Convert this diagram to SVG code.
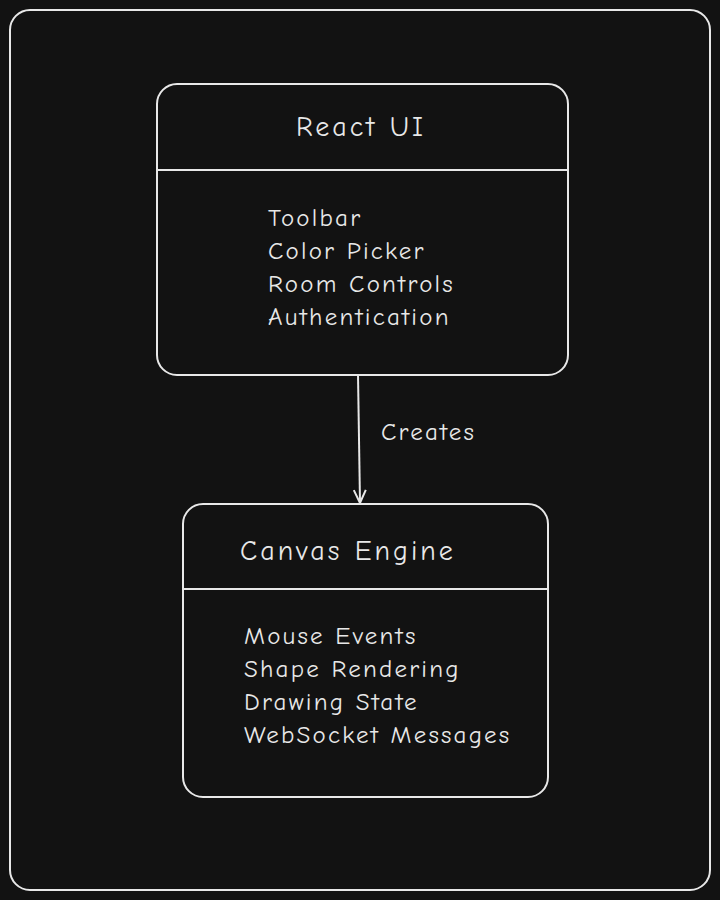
<svg xmlns="http://www.w3.org/2000/svg" width="720" height="900" viewBox="0 0 720 900">
<defs>
<style>
.b{fill:none;stroke:#e8e8e8;stroke-width:2}
.t{fill:#e8e8e8;font-family:"Comic Neue","Open Sans","Liberation Sans",sans-serif;font-size:25px;letter-spacing:2.2px}
.h{font-size:28px;letter-spacing:3px}
</style>
<marker id="a" markerWidth="16" markerHeight="16" refX="14" refY="8" orient="auto" markerUnits="userSpaceOnUse">
<path d="M1,2 L14,8 L1,14" fill="none" stroke="#e8e8e8" stroke-width="2"/>
</marker>
</defs>
<rect width="720" height="900" fill="#121212"/>
<rect x="10" y="10" width="700" height="880" rx="20" class="b"/>
<g id="connectors">
<line x1="358" y1="375" x2="360" y2="503" class="b" marker-end="url(#a)"/>
<text x="381" y="440" class="t">Creates</text>
</g>
<g id="react-ui">
<rect x="157" y="84" width="411" height="291" rx="20" class="b"/>
<line x1="157" y1="170" x2="568" y2="170" class="b"/>
<text x="361" y="136" class="t h" text-anchor="middle">React UI</text>
<text x="268" y="226" class="t">Toolbar</text>
<text x="268" y="259" class="t">Color Picker</text>
<text x="268" y="292" class="t">Room Controls</text>
<text x="268" y="325" class="t">Authentication</text>
</g>
<g id="canvas-engine">
<rect x="183" y="504" width="365" height="293" rx="20" class="b"/>
<line x1="183" y1="589" x2="548" y2="589" class="b"/>
<text x="240" y="560" class="t h">Canvas Engine</text>
<text x="244" y="644" class="t">Mouse Events</text>
<text x="244" y="677" class="t">Shape Rendering</text>
<text x="244" y="710" class="t">Drawing State</text>
<text x="244" y="743" class="t">WebSocket Messages</text>
</g>
</svg>
